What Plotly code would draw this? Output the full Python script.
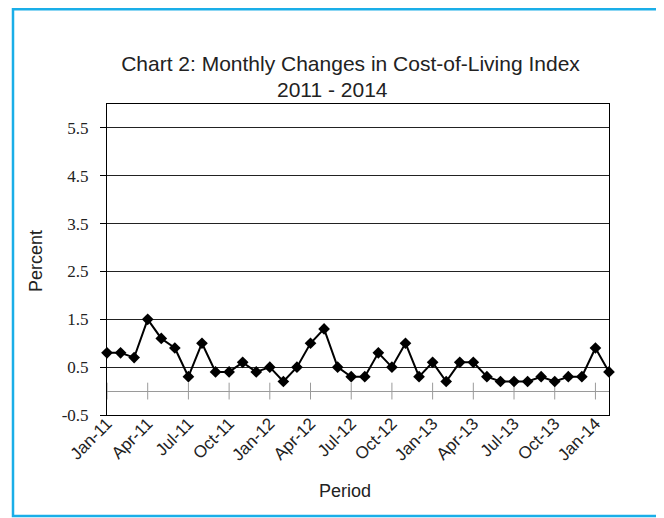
import plotly.graph_objects as go

# ---- data ----
months = [
    "Jan-11", "Feb-11", "Mar-11", "Apr-11", "May-11", "Jun-11", "Jul-11", "Aug-11", "Sep-11", "Oct-11", "Nov-11", "Dec-11",
    "Jan-12", "Feb-12", "Mar-12", "Apr-12", "May-12", "Jun-12", "Jul-12", "Aug-12", "Sep-12", "Oct-12", "Nov-12", "Dec-12",
    "Jan-13", "Feb-13", "Mar-13", "Apr-13", "May-13", "Jun-13", "Jul-13", "Aug-13", "Sep-13", "Oct-13", "Nov-13", "Dec-13",
    "Jan-14", "Feb-14",
]
pct_change = [
    0.8, 0.8, 0.7, 1.5, 1.1, 0.9, 0.3, 1.0, 0.4, 0.4, 0.6, 0.4,
    0.5, 0.2, 0.5, 1.0, 1.3, 0.5, 0.3, 0.3, 0.8, 0.5, 1.0, 0.3,
    0.6, 0.2, 0.6, 0.6, 0.3, 0.2, 0.2, 0.2, 0.3, 0.2, 0.3, 0.3,
    0.9, 0.4,
]
x_tick_labels = ["Jan-11", "Apr-11", "Jul-11", "Oct-11", "Jan-12", "Apr-12", "Jul-12",
                 "Oct-12", "Jan-13", "Apr-13", "Jul-13", "Oct-13", "Jan-14"]
y_tick_values = [-0.5, 0.5, 1.5, 2.5, 3.5, 4.5, 5.5]
y_tick_labels = ["-0.5", "0.5", "1.5", "2.5", "3.5", "4.5", "5.5"]
title_line1 = "Chart 2: Monthly Changes in Cost-of-Living Index"
title_line2 = "2011 - 2014"

# page has an 8px body margin; figure is sized so it fills the 664x518 window
OFF = 8
W, H = 664 - OFF, 518 - OFF
ML, MT = 107 - OFF, 104 - OFF
MR = W - (609 - OFF)
MB = H - (415 - OFF)
PW, PH = W - ML - MR, H - MT - MB


def px_x(p):
    """page pixel x -> paper fraction"""
    return (p - OFF - ML) / PW


def px_y(p):
    """page pixel y -> paper fraction"""
    return (H - MB - (p - OFF)) / PH


SANS = "Liberation Sans, Arial, sans-serif"
SERIF = "Liberation Serif, Times New Roman, serif"

fig = go.Figure()

# tick marks crossing the zero line (category axis crosses at 0)
fig.add_trace(go.Scatter(
    x=x_tick_labels, y=[0] * len(x_tick_labels), mode="markers",
    marker=dict(symbol="line-ns", size=12, line=dict(color="#9a9a9a", width=1)),
    hoverinfo="skip", showlegend=False, cliponaxis=False,
))

fig.add_trace(go.Scatter(
    x=months, y=pct_change, mode="lines+markers",
    line=dict(color="black", width=2),
    marker=dict(symbol="diamond", size=9, color="black"),
    showlegend=False, cliponaxis=False,
))

fig.update_layout(
    width=W, height=H,
    margin=dict(l=ML, r=MR, t=MT, b=MB, autoexpand=False),
    paper_bgcolor="white", plot_bgcolor="white",
    showlegend=False,
    title=dict(
        text=title_line1,
        x=(350.5 - OFF) / W, xanchor="center",
        y=1 - (64 - OFF) / H, yanchor="middle",
        font=dict(family=SANS, size=21, color="#222"),
    ),
    font=dict(family=SANS, color="#222"),
)

fig.update_xaxes(
    type="category", categoryorder="array", categoryarray=months,
    range=[0, len(months) - 1],
    tickmode="array", tickvals=x_tick_labels, ticktext=x_tick_labels,
    tickangle=-45, ticks="", showgrid=False, automargin=False,
    ticklabelstandoff=-9,
    showline=True, linecolor="black", linewidth=1, mirror=True,
    tickfont=dict(family=SANS, size=17, color="#222"),
    zeroline=False,
)

fig.update_yaxes(
    range=[-0.5, 6.0], automargin=False,
    tickmode="array", tickvals=y_tick_values, ticktext=y_tick_labels,
    ticks="outside", ticklen=6, tickcolor="black", ticklabelstandoff=8,
    showgrid=True, gridcolor="#222", gridwidth=1,
    showline=True, linecolor="black", linewidth=1, mirror=True,
    zeroline=True, zerolinecolor="#9a9a9a", zerolinewidth=1,
    tickfont=dict(family=SERIF, size=17, color="#222"),
)

fig.add_annotation(text=title_line2, xref="paper", yref="paper",
                   x=px_x(332.5), y=px_y(89), showarrow=False,
                   xanchor="center", yanchor="middle",
                   font=dict(family=SANS, size=21, color="#222"))
fig.add_annotation(text="Percent", xref="paper", yref="paper",
                   x=px_x(36), y=px_y(261), textangle=-90, showarrow=False,
                   xanchor="center", yanchor="middle",
                   font=dict(family=SANS, size=18, color="#222"))
fig.add_annotation(text="Period", xref="paper", yref="paper",
                   x=px_x(345), y=px_y(491), showarrow=False,
                   xanchor="center", yanchor="middle",
                   font=dict(family=SANS, size=18, color="#222"))

# outer light-blue frame
fig.add_shape(type="rect", xref="paper", yref="paper",
              x0=px_x(13), x1=px_x(659), y0=px_y(516), y1=px_y(9.2),
              line=dict(color="#1aaee8", width=2.5), fillcolor="rgba(0,0,0,0)", layer="below")

fig.write_html("out.html")
